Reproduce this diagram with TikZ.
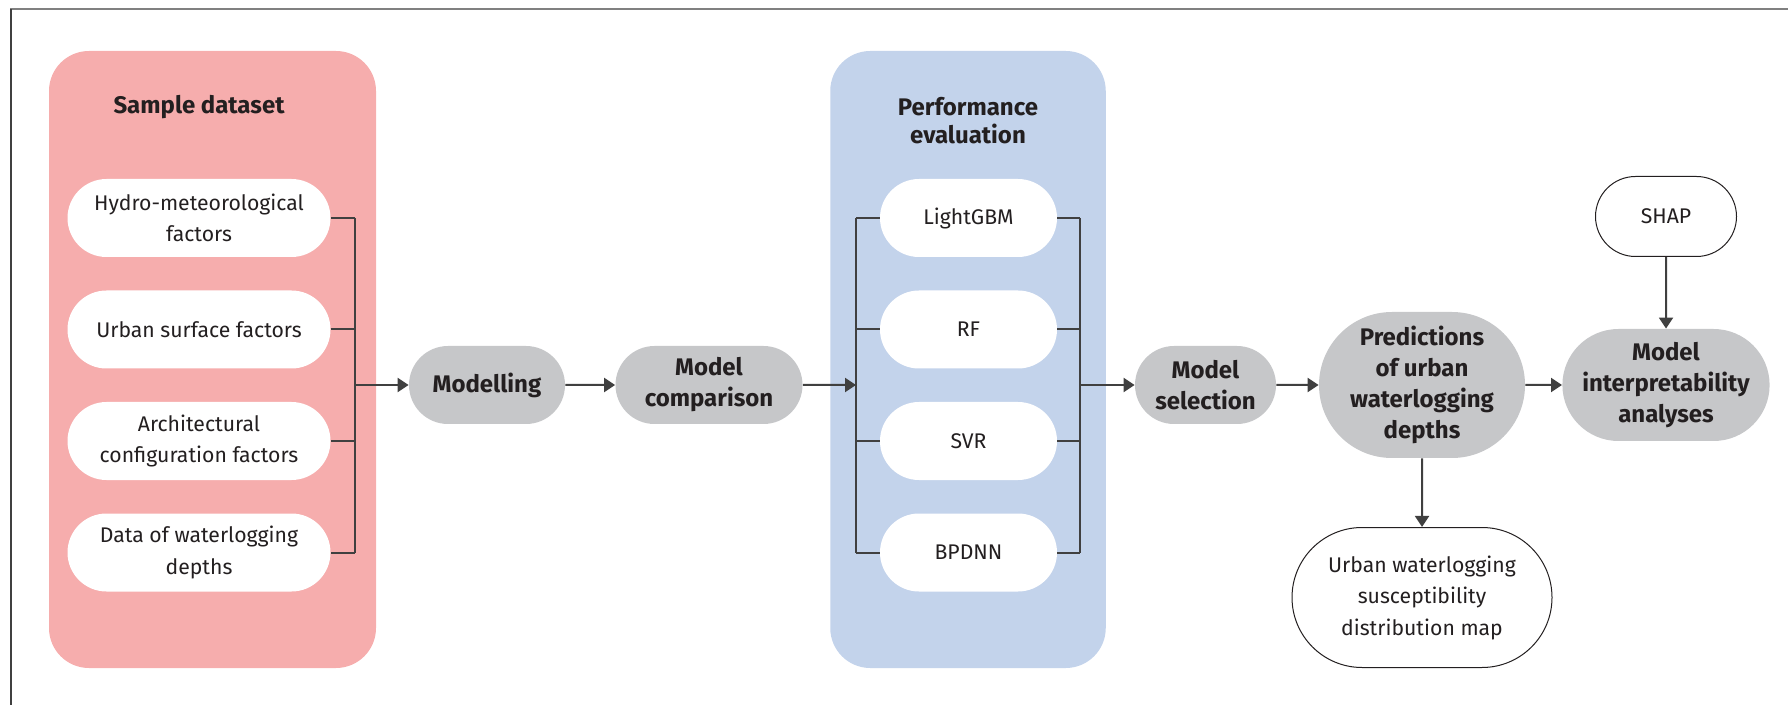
\documentclass[tikz,border=0pt]{standalone}
\usepackage{fontspec}
\setmainfont{Fira Sans}
\usepackage{tikz}
\usetikzlibrary{arrows.meta,shapes.misc}
\definecolor{flowpink}{RGB}{246,173,173}
\definecolor{flowblue}{RGB}{195,211,235}
\definecolor{flowgray}{RGB}{198,199,201}
\definecolor{flowline}{RGB}{64,64,64}
\definecolor{flowtext}{RGB}{35,31,32}

\begin{document}
\begin{tikzpicture}[x=0.5pt,y=-0.5pt,
  every node/.style={text=flowtext},
  panel/.style={rectangle, rounded corners=20pt, minimum width=#1, minimum height=308.5pt, inner sep=0pt},
  title/.style={align=center, font=\fontsize{12}{14}\selectfont\bfseries},
  item/.style={rounded rectangle, fill=white, minimum width=#1, minimum height=39pt, inner sep=0pt,
    align=center, font=\fontsize{10.6}{15.75}\selectfont},
  stage/.style={rounded rectangle, fill=flowgray, minimum width=#1, minimum height=39pt, inner sep=0pt,
    align=center, font=\fontsize{12}{15.5}\selectfont\bfseries},
  outlined/.style={rounded rectangle, draw=flowtext, line width=0.5pt, fill=white, minimum width=#1,
    inner sep=0pt, align=center, font=\fontsize{10.6}{15.75}\selectfont},
  conn/.style={flowline, line width=1pt},
  arr/.style={flowline, line width=1pt, -{Triangle[length=5.5pt,width=7pt]}}]
\useasboundingbox (0,0) rectangle (1788,705);

% frame
\draw[gray, line width=1pt] (10,9) -- (1788,9);
\draw[flowline, line width=0.75pt] (11,9) -- (11,705);

% sample dataset
\node[panel=163.5pt, fill=flowpink] (sample) at (212.5,359.5) {};
\node[title] (sampletitle) at (199,107) {Sample dataset};
\node[item=131.5pt] (hydro) at (199,218) {Hydro-meteorological\\factors};
\node[item=131.5pt] (urban) at (199,329.5) {Urban surface factors};
\node[item=131.5pt] (arch) at (199,441) {Architectural\\configuration factors};
\node[item=131.5pt] (depth) at (199,552.5) {Data of waterlogging\\depths};

% modelling
\node[stage=78pt] (modelling) at (487,385) {Modelling};
\node[stage=93.5pt] (comparison) at (709,385) {Model\\comparison};

% performance evaluation
\node[panel=137.75pt, fill=flowblue] (evaluation) at (968,359.5) {};
\node[title] (evaltitle) at (968,121) {Performance\\evaluation};
\node[item=88.5pt] (lgbm) at (968.5,218) {LightGBM};
\node[item=88.5pt] (rf) at (968.5,329.5) {RF};
\node[item=88.5pt] (svr) at (968.5,441) {SVR};
\node[item=88.5pt] (bpdnn) at (968.5,552.5) {BPDNN};

% selection and outputs
\node[stage=70.5pt] (selection) at (1205.5,385) {Model\\selection};
\node[stage=103pt, minimum height=73pt] (predict) at (1422,385) {Predictions\\of urban\\waterlogging\\depths};
\node[stage=97pt, minimum height=56pt] (interp) at (1666,385) {Model\\interpretability\\analyses};
\node[outlined=70.5pt, minimum height=40pt] (shap) at (1666,216.5) {SHAP};
\node[outlined=130pt, minimum height=70pt] (suscmap) at (1422,597.5) {Urban waterlogging\\susceptibility\\distribution map};

% connectors
\coordinate (inbus) at (355,385);
\coordinate (evalin) at (856,385);
\coordinate (evalout) at (1080,385);
\foreach \n in {hydro,urban,arch,depth}
    \draw[conn] (\n.east) -- (\n.east -| inbus);
\draw[conn] (hydro.east -| inbus) -- (depth.east -| inbus);
\foreach \n in {lgbm,rf,svr,bpdnn} {
    \draw[conn] (\n.west) -- (\n.west -| evalin);
    \draw[conn] (\n.east) -- (\n.east -| evalout);
}
\draw[conn] (lgbm.west -| evalin) -- (bpdnn.west -| evalin);
\draw[conn] (lgbm.east -| evalout) -- (bpdnn.east -| evalout);

\draw[arr] (inbus) -- (modelling);
\draw[arr] (modelling) -- (comparison);
\draw[arr] (comparison) -- (evalin);
\draw[arr] (evalout) -- (selection);
\draw[arr] (selection) -- (predict);
\draw[arr] (predict) -- (interp);
\draw[arr] (shap) -- (interp);
\draw[arr] (predict) -- (suscmap);
\end{tikzpicture}
\end{document}
